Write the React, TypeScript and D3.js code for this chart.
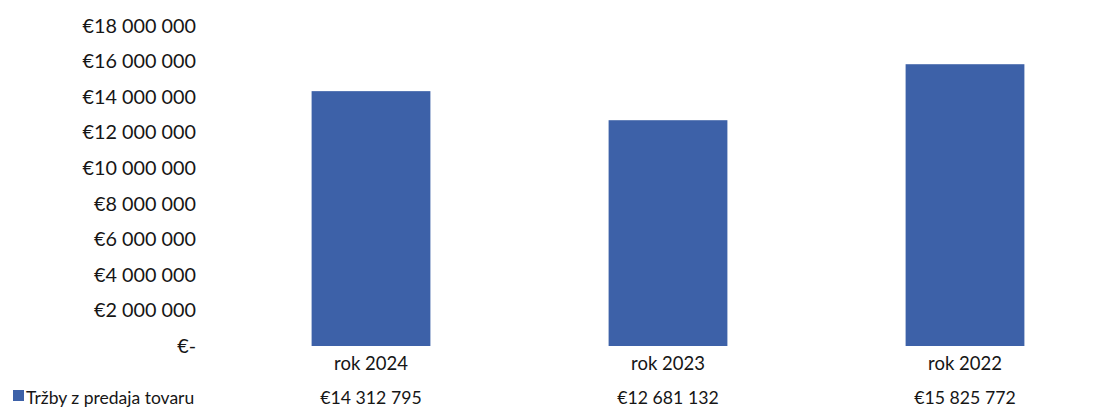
import React from "react";
import * as d3 from "d3";

const categories = ["rok 2024", "rok 2023", "rok 2022"];
const values = [14312795, 12681132, 15825772];
const seriesName = "Tržby z predaja tovaru";
const yTicks = [0, 2000000, 4000000, 6000000, 8000000, 10000000, 12000000, 14000000, 16000000, 18000000];

const W = 1102;
const H = 409;
const FONT = "Lato, 'Open Sans', sans-serif";
const BAR = "#3d61a8";
const TXT = "#161616";

const fmtNum = (v: number) =>
  v === 0 ? "€-" : "€" + Math.round(v).toString().replace(/\B(?=(\d{3})+(?!\d))/g, " ");

export default function App() {
  const y = d3.scaleLinear().domain([0, 18000000]).range([346, 25.5]);
  const x = d3
    .scaleBand<string>()
    .domain(categories)
    .range([222.5, 1113.5])
    .paddingInner(0.6)
    .paddingOuter(0.3);

  return (
    <svg
      width={W}
      height={H}
      style={{ position: "absolute", left: 0, top: 0, background: "#fff" }}
      fontFamily={FONT}
    >
      <rect x={0} y={0} width={W} height={H} fill="#fff" />
      {yTicks.map((t) => (
        <text
          key={t}
          x={196}
          y={y(t) - 1}
          textAnchor="end"
          dominantBaseline="central"
          fontSize={19.8}
          fill={TXT}
        >
          {fmtNum(t)}
        </text>
      ))}
      {categories.map((c, i) => (
        <g key={c}>
          <rect
            x={x(c)!}
            y={y(values[i])}
            width={x.bandwidth()}
            height={y(0) - y(values[i])}
            fill={BAR}
          />
          <text
            x={x(c)! + x.bandwidth() / 2}
            y={363}
            textAnchor="middle"
            dominantBaseline="central"
            fontSize={18.5}
            fill={TXT}
          >
            {c}
          </text>
          <text
            x={x(c)! + x.bandwidth() / 2}
            y={397}
            textAnchor="middle"
            dominantBaseline="central"
            fontSize={17.7}
            fill={TXT}
          >
            {fmtNum(values[i])}
          </text>
        </g>
      ))}
      <rect x={13} y={390} width={11} height={11} fill={BAR} />
      <text x={26} y={397} dominantBaseline="central" fontSize={17.5} fill={TXT}>
        {seriesName}
      </text>
    </svg>
  );
}
